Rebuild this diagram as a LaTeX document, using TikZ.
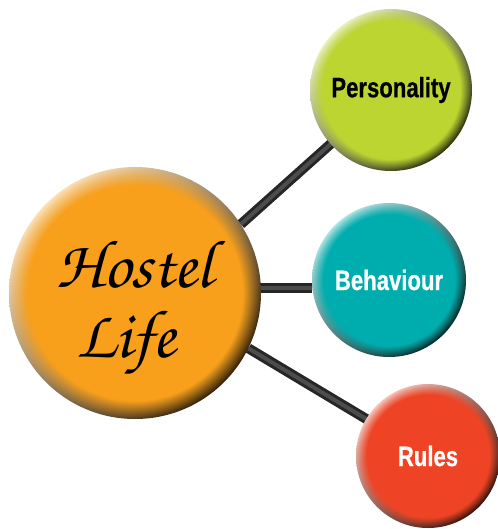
\documentclass[tikz,border=0pt]{standalone}
\usepackage[T1,TU]{fontenc}
\usepackage{fontspec}
\usepackage{tikz}
\usetikzlibrary{positioning,fadings,backgrounds}

\newfontfamily\tagfont[FakeStretch=0.79,FakeBold=0.6]{Liberation Sans}
\newcommand{\hostelfont}{\fontencoding{T1}\fontfamily{pzc}\fontsize{68}{70}\selectfont}

\definecolor{hostelorange}{HTML}{F8A01C}
\definecolor{traitgreen}{HTML}{BDD531}
\definecolor{traitteal}{HTML}{00ADAE}
\definecolor{traitred}{HTML}{EE4425}

\tikzset{
  ball/.style 2 args={circle, minimum size=#2, inner sep=0pt,
    path picture={
      \shade[top color=#1!30!white, middle color=#1, bottom color=#1!15!black, shading angle=45]
        (path picture bounding box.south west) rectangle (path picture bounding box.north east);
      \fill[#1, path fading=circle with fuzzy edge 15 percent]
        (path picture bounding box.south west) rectangle (path picture bounding box.north east);
    }},
  tag/.style={font=\tagfont\bfseries\fontsize{28}{30}\selectfont},
  bar/.style={line width=10pt, draw=gray!30!black},
  barlight/.style={line width=4pt, draw=gray!60!black}
}

\begin{document}
\begin{tikzpicture}[x=1pt,y=-1pt]

\useasboundingbox (0,0) rectangle (497,529);

\node(hostel)[ball={hostelorange}{252pt}, align=center, font=\hostelfont] at (135,293) {\rule{0pt}{80pt}Hostel\\Life\hspace*{18pt}};

\node(personality)[ball={traitgreen}{162pt}, tag, text=black] at (391,90) {Personality};

\node(behaviour)[ball={traitteal}{154pt}, tag, text=white] at (389,280) {Behaviour};

\node(rules)[ball={traitred}{144pt}, tag, text=white] at (428,456) {Rules};

\coordinate(bmid) at (behaviour.186 -| hostel.center);

\begin{scope}[on background layer]

\draw[bar] (hostel.33) -- (personality.center);

\draw[bar] (bmid) -- (behaviour.186);

\draw[bar] (hostel.-26) -- (rules.center);

\draw[barlight] (hostel.33) -- (personality.center);

\draw[barlight] (bmid) -- (behaviour.186);

\draw[barlight] (hostel.-26) -- (rules.center);

\end{scope}

\end{tikzpicture}
\end{document}
